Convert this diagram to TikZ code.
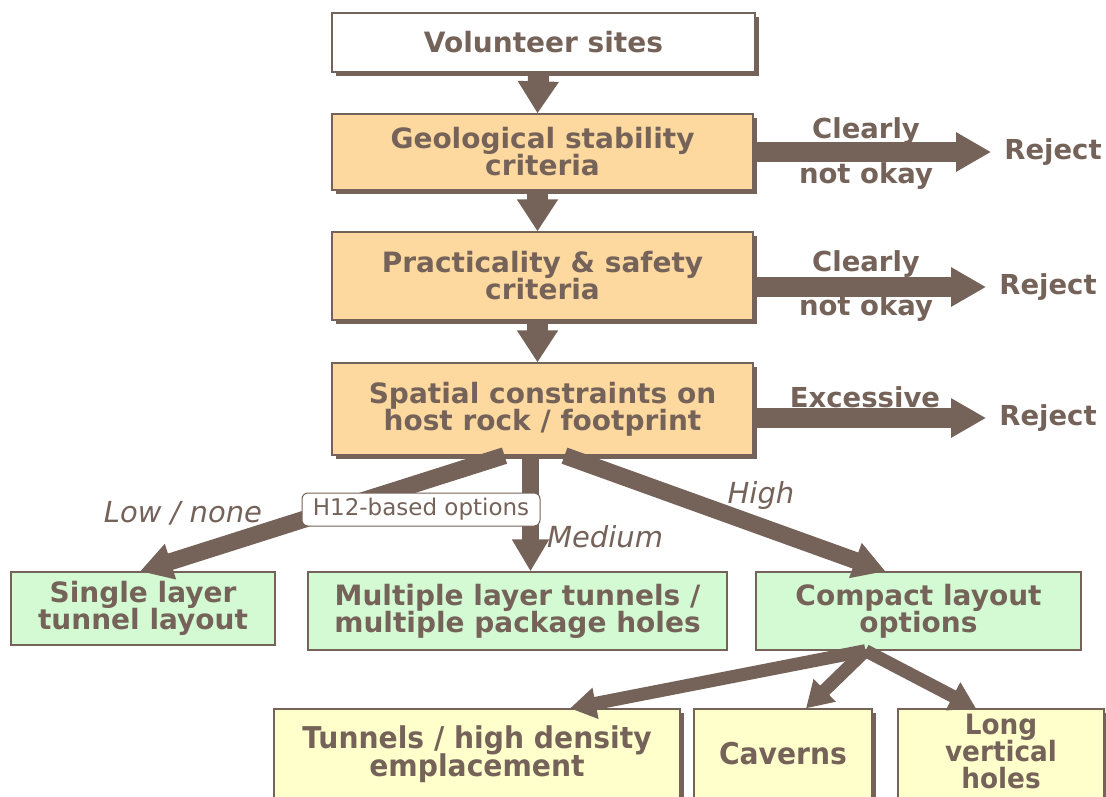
\documentclass[tikz,border=0pt]{standalone}
\usepackage{fontspec}
\setmainfont{DejaVu Sans}
\newfontfamily\condf[FakeStretch=0.94]{DejaVu Sans}
\usetikzlibrary{arrows.meta}
\definecolor{brn}{RGB}{117,99,90}
\definecolor{org}{RGB}{253,217,160}
\definecolor{grn}{RGB}{212,250,212}
\definecolor{ylw}{RGB}{255,255,204}
\newcommand\tightls{\lineskiplimit=-20pt\relax}
\begin{document}
\begin{tikzpicture}[x=1pt,y=-1pt,
  box/.style={draw=brn,line width=1.3pt,text=brn,font=\fontsize{28}{27}\selectfont\bfseries\tightls,align=center,inner sep=0pt},
  shad/.style={preaction={fill=brn,transform canvas={xshift=4pt,yshift=-4pt}}},
  ybox/.style={box,fill=ylw,shad,font=\condf\fontsize{30}{27.5}\selectfont\bfseries\tightls},
  lbl/.style={text=brn,font=\fontsize{27.5}{28}\selectfont\bfseries,inner sep=0pt},
  ilbl/.style={text=brn,font=\fontsize{29}{30}\selectfont\itshape,inner sep=0pt},
  rej/.style={lbl,inner xsep=13pt},
  bigarrow/.style={draw=brn,line width=21pt,-{Triangle[width=39pt,length=32pt]}},
  sidearrow/.style={draw=brn,line width=20pt,-{Triangle[width=37pt,length=35pt]}},
  midarrow/.style={draw=brn,line width=17pt,-{Triangle[width=35pt,length=32pt]}},
  subarrow/.style={draw=brn,line width=13pt,-{Triangle[width=30pt,length=26pt]}}
]
\useasboundingbox[fill=white] (0,0) rectangle (1106,796);

% main column
\node[box,fill=white,shad,minimum width=423pt,minimum height=59pt] (vol) at (543.5,42.5) {Volunteer sites};
\node[box,fill=org,shad,minimum width=421pt,minimum height=76pt] (geo) at (542.5,152) {Geological stability\\criteria};
\node[box,fill=org,shad,minimum width=421pt,minimum height=88pt] (pra) at (542.5,276) {Practicality \& safety\\criteria};
\node[box,fill=org,shad,minimum width=421pt,minimum height=92pt] (spa) at (542.5,409) {Spatial constraints on\\host rock / footprint};

% green row
\node[box,fill=grn,minimum width=264pt,minimum height=73pt] (sgl) at (143,608.5) {Single layer\\tunnel layout};
\node[box,fill=grn,minimum width=419pt,minimum height=78pt] (mul) at (517.5,611) {Multiple layer tunnels /\\multiple package holes};
\node[box,fill=grn,minimum width=325pt,minimum height=78pt] (cmp) at (918.5,611) {Compact layout\\options};

% yellow row
\node[ybox,minimum width=406pt,minimum height=90pt] (tun) at (477,754) {Tunnels / high density\\emplacement};
\node[ybox,minimum width=178pt,minimum height=90pt] (cav) at (783,754) {Caverns};
\node[ybox,minimum width=206pt,minimum height=90pt] (lvh) at (1001,754) {};
\node[text=brn,font=\condf\fontsize{28}{27}\selectfont\bfseries\tightls,align=center,inner sep=0pt] (lvht) at (1001,751) {Long\\vertical\\holes};

% reject labels
\node[rej] (r1) at (1053,152) {Reject};
\node[rej] (r2) at (1048,287) {Reject};
\node[rej] (r3) at (1048,418) {Reject};

% vertical arrows
\draw[bigarrow] ([xshift=-5pt]vol.south) -- ([xshift=-5pt]geo.north);
\draw[bigarrow] ([xshift=-5pt]geo.south) -- ([xshift=-5pt]pra.north);
\draw[bigarrow] ([xshift=-5pt]pra.south) -- ([xshift=-5pt]spa.north);

% side arrows
\draw[sidearrow] (geo.east |- r1.west) -- (r1.west);
\draw[sidearrow] (pra.east |- r2.west) -- (r2.west);
\draw[sidearrow] (spa.east |- r3.west) -- (r3.west);
\node[lbl] (c1) at (866,131) {Clearly};
\node[lbl] (n1) at (866,176) {not okay};
\node[lbl] (c2) at (866,264) {Clearly};
\node[lbl] (n2) at (866,308) {not okay};
\node[lbl] (ex) at (865,397) {Excessive};

% spatial branches
\draw[midarrow] ([xshift=-38pt]spa.south) -- ([xshift=-3pt]sgl.north);
\draw[midarrow] ([xshift=-12pt]spa.south) -- ([xshift=13pt]mul.north);
\draw[midarrow] ([xshift=22pt]spa.south) -- ([xshift=-33pt]cmp.north);
\node[draw=brn,line width=1pt,fill=white,rounded corners=6pt,text=brn,font=\fontsize{23}{24}\selectfont,minimum width=238pt,minimum height=33pt,inner sep=0pt] (h12) at (421,509.5) {H12-based options};
\node[ilbl] (low) at (183,513) {Low / none};
\node[ilbl] (med) at (605,537) {Medium};
\node[ilbl] (hig) at (761,495) {High};

% compact branches
\draw[subarrow] ([xshift=-53pt]cmp.south) -- ([xshift=93pt]tun.north);
\draw[subarrow] ([xshift=-53pt]cmp.south) -- ([xshift=23pt]cav.north);
\draw[subarrow] ([xshift=-53pt]cmp.south) -- ([xshift=-25pt]lvh.north);
\end{tikzpicture}
\end{document}
